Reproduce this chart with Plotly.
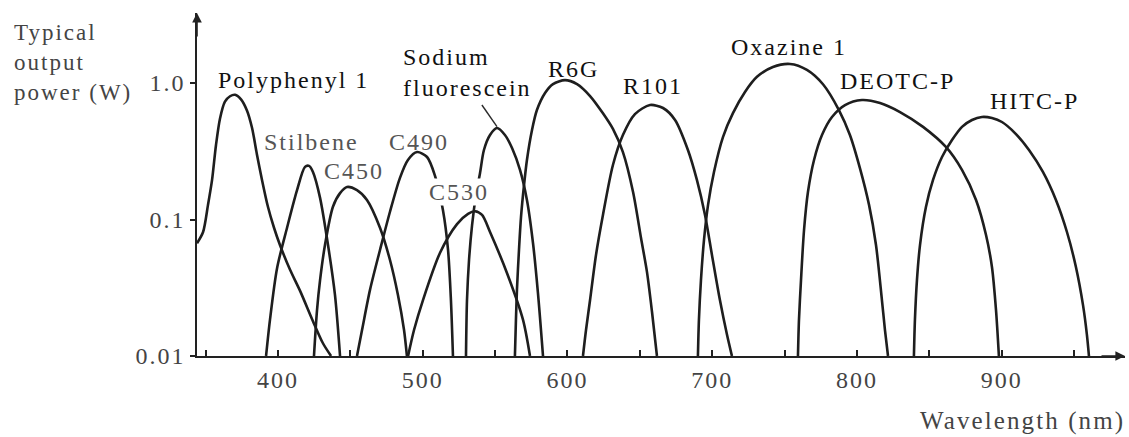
import numpy as np
import plotly.graph_objects as go

# ---- data (wavelength nm, typical output power W) ----
polyphenyl_nm = [344.1, 348.3, 351.7, 354.5, 357.2, 360.0, 363.4, 366.9, 370.4, 374.5, 378.6, 382.1,
                 385.5, 389.0, 393.1, 397.3, 401.4, 408.3, 415.3, 424.2, 431.1, 436.7]
polyphenyl_w = [0.067, 0.081, 0.128, 0.195, 0.35, 0.55, 0.73, 0.80, 0.82, 0.76, 0.63, 0.47,
                0.30, 0.195, 0.124, 0.087, 0.065, 0.043, 0.030, 0.018, 0.0124, 0.01]

stilbene_nm = [391.8, 394.5, 399.4, 406.3, 413.2, 418.7, 421.5, 424.2, 429.1, 434.6, 439.4, 442.9]
stilbene_w = [0.01, 0.0184, 0.044, 0.087, 0.164, 0.243, 0.247, 0.223, 0.144, 0.065, 0.028, 0.01]

c450_nm = [424.9, 427.0, 429.1, 432.5, 438.0, 442.9, 447.7, 454.6, 461.5, 470.5, 477.4, 482.9, 487.1, 489.1]
c450_w = [0.01, 0.0217, 0.036, 0.065, 0.124, 0.156, 0.173, 0.164, 0.139, 0.087, 0.0505, 0.028, 0.0155, 0.01]

c490_nm = [454.6, 458.1, 463.6, 470.5, 477.4, 484.3, 489.8, 496.1, 503.0, 508.5, 514.0, 517.5, 519.5, 520.9]
c490_w = [0.01, 0.0155, 0.0305, 0.0598, 0.114, 0.202, 0.273, 0.312, 0.287, 0.209, 0.117, 0.0598, 0.0257, 0.01]

c530_nm = [489.9, 494.0, 500.2, 511.9, 523.7, 531.3, 536.1, 541.0, 546.5, 558.2, 569.3, 574.1]
c530_w = [0.01, 0.0155, 0.0257, 0.0568, 0.0926, 0.110, 0.115, 0.108, 0.081, 0.0406, 0.0184, 0.01]

fluorescein_nm = [529.9, 530.6, 532.0, 534.1, 536.8, 539.6, 542.3, 546.5, 551.3, 556.8, 561.7, 567.2,
                  572.0, 576.2, 579.6, 583.1]
fluorescein_w = [0.01, 0.0257, 0.0505, 0.091, 0.151, 0.219, 0.323, 0.416, 0.468, 0.416, 0.334, 0.231,
                 0.139, 0.067, 0.029, 0.01]

r6g_nm = [563.7, 564.4, 565.1, 566.5, 567.9, 570.0, 572.0, 575.5, 578.9, 584.5, 590.0, 598.3, 606.6,
          615.6, 624.5, 631.4, 638.3, 645.3, 650.8, 654.9, 658.4, 661.8]
r6g_w = [0.01, 0.0184, 0.0305, 0.0598, 0.104, 0.179, 0.273, 0.453, 0.634, 0.845, 0.982, 1.05, 0.982,
         0.803, 0.60, 0.461, 0.312, 0.159, 0.0732, 0.0413, 0.021, 0.01]

r101_nm = [610.7, 612.8, 615.6, 619.7, 624.5, 631.4, 638.3, 646.6, 657.0, 666.0, 674.3, 683.2, 689.4,
           695.0, 699.8, 705.3, 710.2, 713.6]
r101_w = [0.01, 0.0155, 0.0257, 0.055, 0.108, 0.251, 0.416, 0.592, 0.690, 0.656, 0.536, 0.323, 0.195,
          0.108, 0.055, 0.0257, 0.0143, 0.01]

oxazine_nm = [690.1, 690.8, 692.2, 694.3, 697.1, 701.2, 707.4, 714.3, 722.6, 730.9, 741.9, 753.7, 765.4,
              776.5, 787.5, 795.1, 802.0, 808.3, 813.1, 817.2, 819.3, 821.4]
oxazine_w = [0.01, 0.0184, 0.036, 0.0708, 0.128, 0.223, 0.402, 0.602, 0.86, 1.11, 1.31, 1.38, 1.25,
             0.98, 0.634, 0.416, 0.238, 0.128, 0.065, 0.0257, 0.0155, 0.01]

deotc_nm = [759.2, 759.9, 761.3, 763.4, 766.1, 770.3, 775.8, 782.7, 791.7, 803.4, 815.9, 829.7, 845.6,
            861.4, 872.5, 882.2, 889.1, 893.2, 896.0, 898.0]
deotc_w = [0.01, 0.0184, 0.036, 0.0838, 0.159, 0.273, 0.416, 0.564, 0.690, 0.751, 0.714, 0.613, 0.477,
           0.34, 0.231, 0.139, 0.077, 0.0449, 0.0217, 0.01]

hitc_nm = [839.3, 840.0, 841.4, 843.5, 847.6, 852.5, 858.7, 865.6, 872.5, 879.4, 886.3, 893.2, 900.1,
           909.1, 918.8, 928.4, 937.4, 945.0, 951.2, 956.1, 958.8, 960.2]
hitc_w = [0.01, 0.0184, 0.036, 0.065, 0.1235, 0.195, 0.287, 0.382, 0.477, 0.536, 0.564, 0.554, 0.518,
          0.43, 0.323, 0.223, 0.139, 0.081, 0.0449, 0.0236, 0.0143, 0.01]

# leader line from the "Sodium fluorescein" label to its curve
leader_nm = [540.9, 551.3]
leader_w = [0.69, 0.48]

# curve labels (left edge wavelength, centre power)
label_text = ["Polyphenyl 1", "Stilbene", "C450", "C490", "C530", "Sodium<br>fluorescein",
              "R6G", "R101", "Oxazine 1", "DEOTC-P", "HITC-P"]
label_nm = [358.0, 389.7, 431.1, 476.0, 503.7, 485.7, 585.9, 637.6, 712.3, 787.5, 891.1]
label_w = [1.05, 0.37, 0.226, 0.37, 0.159, 1.19, 1.27, 0.95, 1.84, 1.03, 0.74]
label_dark = [True, False, False, False, False, True, True, True, True, True, True]

x_tickvals = [400, 500, 600, 700, 800, 900]
y_tickvals = [0.01, 0.1, 1.0]
y_ticktext = ["0.01", "0.1", "1.0"]

FONT = "Liberation Serif, Times New Roman, serif"


def sp(t, ls=2):
    return "<span style='letter-spacing:%spx'>%s</span>" % (ls, t)


curves = [
    (polyphenyl_nm, polyphenyl_w), (stilbene_nm, stilbene_w), (c450_nm, c450_w),
    (c490_nm, c490_w), (c530_nm, c530_w), (fluorescein_nm, fluorescein_w),
    (r6g_nm, r6g_w), (r101_nm, r101_w), (oxazine_nm, oxazine_w),
    (deotc_nm, deotc_w), (hitc_nm, hitc_w),
]

fig = go.Figure()
for xs, ys in curves:
    fig.add_trace(go.Scatter(x=xs, y=ys, mode="lines",
                             line=dict(color="#1e1e1e", width=2.6, shape="spline", smoothing=0.8),
                             hoverinfo="skip", showlegend=False))
fig.add_trace(go.Scatter(x=leader_nm, y=leader_w, mode="lines",
                         line=dict(color="#2a2a2a", width=1.4),
                         hoverinfo="skip", showlegend=False))

annotations = []
for t, xn, yw, dark in zip(label_text, label_nm, label_w, label_dark):
    lines = t.split("<br>")
    txt = "<br>".join(sp(s) for s in lines)
    annotations.append(dict(
        x=xn, y=np.log10(yw), xref="x", yref="y", text=txt, showarrow=False,
        xanchor="left", yanchor="middle", align="left",
        font=dict(family=FONT, size=24, color="#111111" if dark else "#555555"),
        bgcolor="white" if t == "C530" else None, borderpad=0,
    ))

# axis title texts
annotations.append(dict(
    x=-0.199, y=0.985, xref="paper", yref="paper", xanchor="left", yanchor="top",
    text="<br>".join(sp(s) for s in ["Typical", "output", "power (W)"]),
    showarrow=False, align="left",
    font=dict(family=FONT, size=23, color="#444444"),
))
annotations.append(dict(
    x=0.777, y=-0.19, xref="paper", yref="paper", xanchor="left", yanchor="middle",
    text=sp("Wavelength", 2.1) + sp(" (nm)", 2.1), showarrow=False, align="left",
    font=dict(family=FONT, size=25, color="#444444"),
))
# axis arrowheads
annotations.append(dict(x=0, y=1, xref="paper", yref="paper", ax=0, ay=25, axref="pixel", ayref="pixel",
                        text="", showarrow=True, arrowhead=2, arrowsize=1.2, arrowwidth=1.6,
                        arrowcolor="#222222"))
annotations.append(dict(x=1, y=0, xref="paper", yref="paper", ax=-25, ay=0, axref="pixel", ayref="pixel",
                        text="", showarrow=True, arrowhead=2, arrowsize=1.2, arrowwidth=1.6,
                        arrowcolor="#222222"))

fig.update_layout(
    width=1129, height=437,
    margin=dict(l=197, r=4, t=13, b=81),
    paper_bgcolor="white", plot_bgcolor="white",
    showlegend=False,
    annotations=annotations,
    xaxis=dict(
        range=[344.1, 985.1], showgrid=False, zeroline=False,
        showline=True, linecolor="#222222", linewidth=1.6,
        tickmode="array", tickvals=x_tickvals, ticktext=[sp(str(v)) for v in x_tickvals],
        ticks="inside", ticklen=6, tickwidth=1.5, tickcolor="#222222",
        minor=dict(ticks="inside", dtick=50, tick0=0, ticklen=6, tickwidth=1.5, tickcolor="#222222"),
        ticklabelstandoff=1,
        tickfont=dict(family=FONT, size=24, color="#444444"),
    ),
    yaxis=dict(
        type="log", range=[-2, 0.513], showgrid=False, zeroline=False,
        showline=True, linecolor="#222222", linewidth=1.6,
        tickmode="array", tickvals=y_tickvals, ticktext=[sp(s) for s in y_ticktext],
        ticks="outside", ticklen=5, tickwidth=1.5, tickcolor="#222222",
        tickfont=dict(family=FONT, size=24, color="#444444"),
    ),
)

fig.write_html("out.html")
